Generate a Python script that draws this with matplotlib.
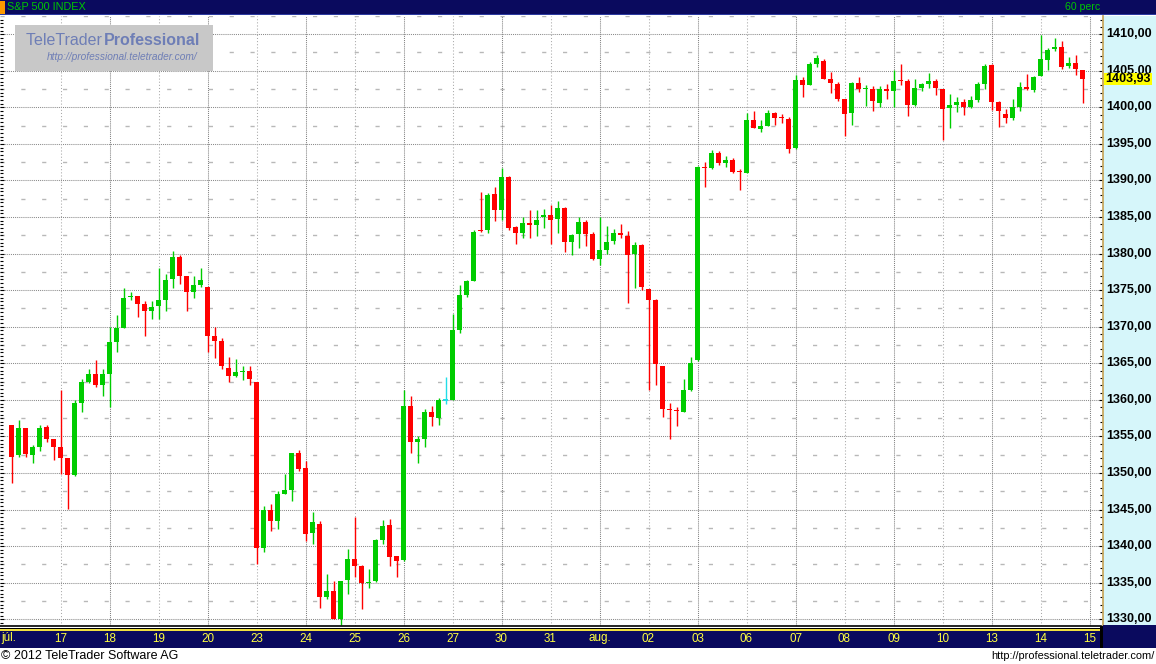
import matplotlib
matplotlib.use("Agg")
import matplotlib.pyplot as plt
from matplotlib.patches import Rectangle
from matplotlib.ticker import MultipleLocator

plt.rcParams['font.family'] = ['Liberation Sans', 'DejaVu Sans']

# hourly candles, S&P 500, 7 per trading day (16 Jul - 14 Aug 2012)
opens = [1356.5, 1352.4, 1356.1, 1352.5, 1353.5, 1356.3, 1354.6,
         1353.6, 1352.1, 1349.8, 1359.6, 1362.4, 1363.5, 1362.0,
         1363.6, 1367.9, 1369.8, 1374.1, 1374.2, 1373.1, 1372.1,
         1372.9, 1373.7, 1376.5, 1379.6, 1376.9, 1374.7, 1375.7,
         1375.4, 1368.7, 1368.1, 1364.3, 1363.2, 1363.8, 1363.9,
         1362.4, 1339.8, 1344.9, 1343.5, 1347.2, 1347.7, 1352.8,
         1350.7, 1341.8, 1343.1, 1333.1, 1333.9, 1330.1, 1335.4,
         1338.3, 1337.3, 1335.0, 1335.3, 1340.9, 1342.9, 1338.6,
         1338.1, 1359.2, 1354.2, 1354.7, 1358.3, 1357.5, 1359.9,
         1360.0, 1369.5, 1374.4, 1376.2, 1383.2, 1383.2, 1388.1,
         1386.0, 1390.5, 1383.6, 1382.8, 1384.2, 1383.9, 1385.0,
         1385.3, 1384.7, 1386.2, 1381.6, 1382.7, 1384.3, 1382.7,
         1379.2, 1380.5, 1381.7, 1382.8, 1382.4, 1379.9, 1381.2,
         1375.1, 1373.6, 1364.6, 1358.7, 1358.6, 1358.4, 1361.3,
         1365.4, 1391.8, 1391.7, 1393.8, 1392.4, 1392.8, 1391.2,
         1391.0, 1398.3, 1397.0, 1397.5, 1399.2, 1398.6, 1398.4,
         1394.4, 1403.8, 1403.1, 1405.9, 1406.4, 1403.9, 1403.2,
         1401.2, 1399.2, 1403.3, 1402.45, 1402.5, 1400.6, 1402.5, 1402.2,
         1403.6, 1403.6, 1400.3, 1402.7, 1403.2, 1403.6, 1402.5,
         1399.9, 1400.3, 1400.7, 1400.1, 1401.0, 1403.2, 1405.8,
         1400.7, 1399.1, 1398.5, 1400.1, 1402.8, 1402.4, 1404.3,
         1406.5, 1408.0, 1408.3, 1405.7, 1406.1, 1405.1]
highs = [1356.5, 1357.2, 1356.2, 1353.9, 1356.6, 1356.5, 1354.7,
         1361.3, 1352.1, 1360.0, 1362.8, 1364.2, 1365.4, 1364.2,
         1369.9, 1371.6, 1375.3, 1374.7, 1374.2, 1373.5, 1373.5,
         1378.1, 1377.2, 1380.3, 1379.8, 1377.0, 1376.9, 1378.0,
         1375.5, 1369.9, 1368.5, 1365.8, 1365.6, 1364.7, 1364.6,
         1362.4, 1345.5, 1345.7, 1347.6, 1349.9, 1352.8, 1353.2,
         1351.6, 1344.7, 1343.5, 1336.2, 1335.3, 1335.3, 1339.6,
         1344.0, 1337.4, 1336.9, 1341.0, 1343.6, 1343.7, 1338.7,
         1361.4, 1360.5, 1355.1, 1358.7, 1359.1, 1360.2, 1363.1,
         1371.7, 1375.7, 1376.4, 1383.2, 1388.4, 1388.3, 1389.1,
         1391.7, 1390.6, 1383.8, 1385.0, 1386.0, 1386.0, 1386.1,
         1386.6, 1387.2, 1386.4, 1382.7, 1385.0, 1384.6, 1382.9,
         1385.0, 1383.8, 1383.4, 1384.0, 1383.1, 1381.6, 1381.3,
         1375.1, 1373.8, 1364.6, 1359.6, 1359.0, 1362.9, 1365.8,
         1392.0, 1392.5, 1394.2, 1394.0, 1393.4, 1393.1, 1391.6,
         1399.2, 1399.5, 1398.3, 1399.6, 1399.3, 1399.1, 1398.7,
         1404.4, 1404.2, 1406.2, 1407.2, 1406.6, 1404.9, 1403.5,
         1401.2, 1403.5, 1404.2, 1403.1, 1402.9, 1402.9, 1403.2, 1405.1,
         1405.9, 1403.9, 1403.9, 1403.3, 1404.7, 1403.9, 1402.5,
         1401.8, 1401.4, 1401.1, 1401.6, 1403.4, 1405.9, 1405.9,
         1400.9, 1399.8, 1401.2, 1403.5, 1404.6, 1404.3, 1409.9,
         1408.1, 1409.5, 1409.1, 1406.9, 1407.2, 1405.1]
lows = [1348.6, 1352.2, 1352.2, 1351.4, 1353.0, 1354.2, 1351.8,
        1349.9, 1345.1, 1349.6, 1358.3, 1362.3, 1361.8, 1360.6,
        1359.0, 1366.6, 1369.8, 1373.6, 1371.3, 1368.7, 1371.0,
        1371.1, 1372.1, 1375.3, 1375.8, 1372.2, 1373.9, 1375.4,
        1366.6, 1365.7, 1364.2, 1362.4, 1363.1, 1362.7, 1362.1,
        1337.5, 1339.2, 1342.1, 1342.4, 1347.1, 1346.2, 1350.3,
        1340.7, 1340.3, 1331.6, 1332.8, 1330.1, 1329.2, 1333.5,
        1335.8, 1331.4, 1334.3, 1335.1, 1340.3, 1337.3, 1335.8,
        1338.0, 1352.7, 1351.4, 1353.5, 1356.4, 1356.5, 1359.4,
        1360.0, 1369.1, 1374.1, 1376.2, 1382.9, 1382.8, 1384.4,
        1384.6, 1383.2, 1381.3, 1382.2, 1382.1, 1382.4, 1383.5,
        1381.3, 1382.8, 1380.2, 1379.8, 1380.8, 1381.0, 1379.1,
        1378.4, 1379.9, 1381.3, 1382.2, 1373.3, 1375.3, 1375.0,
        1361.3, 1362.0, 1357.6, 1354.6, 1356.4, 1358.3, 1361.2,
        1365.3, 1389.1, 1391.6, 1392.1, 1391.8, 1391.0, 1388.7,
        1391.0, 1397.2, 1396.6, 1397.5, 1397.6, 1397.9, 1393.8,
        1394.3, 1401.4, 1403.0, 1405.5, 1403.9, 1402.0, 1400.9,
        1396.1, 1397.6, 1402.1, 1400.2, 1399.5, 1400.1, 1401.2, 1400.1,
        1403.1, 1398.8, 1400.2, 1402.2, 1402.7, 1401.7, 1395.5,
        1397.2, 1399.4, 1399.0, 1399.9, 1400.7, 1402.5, 1399.6,
        1397.3, 1397.9, 1398.3, 1399.5, 1402.4, 1402.1, 1404.3,
        1405.1, 1407.7, 1405.3, 1405.4, 1404.4, 1400.6]
closes = [1352.2, 1356.2, 1352.6, 1353.5, 1356.2, 1354.6, 1353.6,
          1352.1, 1349.8, 1359.6, 1362.4, 1363.5, 1362.0, 1363.6,
          1367.9, 1369.8, 1374.0, 1374.2, 1373.1, 1372.1, 1372.7,
          1373.7, 1376.4, 1379.6, 1376.9, 1374.7, 1375.7, 1376.4,
          1368.7, 1368.0, 1364.6, 1363.2, 1363.8, 1363.9, 1362.8,
          1339.8, 1344.9, 1343.5, 1347.2, 1347.7, 1352.8, 1350.5,
          1341.7, 1343.3, 1333.1, 1333.9, 1330.1, 1335.3, 1338.3,
          1337.3, 1335.0, 1335.1, 1340.9, 1342.8, 1338.5, 1338.0,
          1359.2, 1354.2, 1354.7, 1358.3, 1357.6, 1360.0, 1359.9,
          1369.5, 1374.4, 1376.2, 1382.9, 1383.1, 1388.0, 1386.0,
          1390.5, 1383.5, 1382.8, 1384.2, 1383.9, 1384.6, 1385.3,
          1384.6, 1386.2, 1381.6, 1382.5, 1384.3, 1382.7, 1379.2,
          1380.5, 1381.6, 1382.8, 1382.5, 1379.8, 1381.2, 1375.4,
          1373.6, 1364.9, 1358.8, 1358.6, 1358.5, 1361.3, 1365.0,
          1391.8, 1391.7, 1393.8, 1392.4, 1392.8, 1391.2, 1391.1,
          1398.3, 1397.2, 1397.5, 1399.2, 1398.6, 1398.5, 1394.3,
          1403.8, 1403.1, 1405.9, 1406.8, 1403.9, 1403.3, 1401.2,
          1399.1, 1403.3, 1402.5, 1402.5, 1400.8, 1402.5, 1402.2, 1403.6,
          1403.55, 1400.3, 1402.7, 1403.2, 1403.6, 1402.7, 1399.8,
          1400.3, 1400.7, 1400.1, 1401.0, 1403.2, 1405.7, 1400.7,
          1399.5, 1398.5, 1400.1, 1402.8, 1402.5, 1404.2, 1406.6,
          1407.9, 1408.3, 1405.5, 1406.1, 1405.3, 1403.93]

day_labels = ['júl.', '17', '18', '19', '20', '23', '24', '25', '26', '27',
              '30', '31', 'aug.', '02', '03', '06', '07', '08', '09', '10',
              '13', '14', '15']
bars_per_day = 7
last_price = 1403.93
price_levels = list(range(1330, 1411, 5))

W, H = 1156, 664
NAVY = '#0a0a5e'
GREEN = '#00cc00'
RED = '#ff0000'
CYAN = '#22dde8'


def px_to_price(y):
    return 1410 - (y - 34.2) / 7.314


def price_to_px(p):
    return 34.2 + (1410 - p) * 7.314


def px_to_idx(x):
    return (x - 11.5) / bars_per_day


fig = plt.figure(figsize=(W / 100, H / 100), dpi=100)

# main price panel
ax = fig.add_axes([0, 1 - 626 / H, 1101 / W, 610 / H])
ax.set_xlim(px_to_idx(0), px_to_idx(1101))
ax.set_ylim(px_to_price(626), px_to_price(16))

for p in price_levels:
    ax.axhline(p, color='#8a8a8a', lw=0.75, ls=(0, (1, 1)), zorder=1)
    ax.axhline(p + 2.5, color='#b8b8b8', lw=1.0, ls=(0, (3, 12)), zorder=1)
for d in range(1, len(day_labels)):
    if d % 2 == 0:
        ax.axvline(d * bars_per_day, color='#808080', lw=0.75, ls=(0, (1, 1)), zorder=1)
    else:
        ax.axvline(d * bars_per_day, color='#a8a8a8', lw=0.75, ls=(0, (1, 2)), zorder=1)

xs = list(range(len(opens)))
colors = []
for o, c in zip(opens, closes):
    if c > o:
        colors.append(GREEN)
    elif c < o:
        colors.append(RED)
    else:
        colors.append(CYAN)
ax.vlines(xs, lows, highs, colors=colors, lw=1.0, zorder=2)
bottoms = [min(o, c) for o, c in zip(opens, closes)]
heights = [max(abs(c - o), 0.16) for o, c in zip(opens, closes)]
ax.bar(xs, heights, bottom=bottoms, width=5 / 7, color=colors, linewidth=0, zorder=3)

for s in ['top', 'right', 'left']:
    ax.spines[s].set_visible(False)
ax.spines['bottom'].set_color('black')
ax.spines['bottom'].set_linewidth(1.2)
ax.set_xticks([])
ax.yaxis.set_major_locator(MultipleLocator(5))
ax.yaxis.set_minor_locator(MultipleLocator(0.5))
ax.tick_params(axis='y', which='major', direction='in', length=3, width=0.8,
               color='black', labelleft=False)
ax.tick_params(axis='y', which='minor', direction='in', length=2, width=0.8,
               color='black')

# right price scale panel
rax = fig.add_axes([1103 / W, 1 - 628 / H, (W - 1103) / W, 612 / H])
rax.set_facecolor('#d6f6fa')
rax.set_ylim(px_to_price(628), px_to_price(16))
rax.set_xlim(0, 1)
for s in ['top', 'right', 'bottom']:
    rax.spines[s].set_visible(False)
rax.spines['left'].set_color('#c8a860')
rax.spines['left'].set_linewidth(1.3)
rax.set_xticks([])
rax.yaxis.set_major_locator(MultipleLocator(5))
rax.yaxis.set_minor_locator(MultipleLocator(1))
rax.tick_params(axis='y', which='major', direction='out', length=3, width=0.8,
                color='black', labelleft=False)
rax.tick_params(axis='y', which='minor', direction='out', length=2, width=0.8,
                color='black')

# overlay in pixel coordinates for the frame, header, footer and labels
ov = fig.add_axes([0, 0, 1, 1])
ov.set_xlim(0, W)
ov.set_ylim(H, 0)
ov.axis('off')
ov.patch.set_alpha(0)

# header bar
ov.add_patch(Rectangle((0, 0), W, 15, color=NAVY, lw=0))
ov.add_patch(Rectangle((0, 14), W, 1.2, color='#2c3aa0', lw=0))
ov.add_patch(Rectangle((0, 1), 5, 13, color='#ff9900', lw=0))
ov.text(7, 7.5, 'S&P 500 INDEX', color='#00c800', fontsize=7.8, va='center', ha='left')
ov.text(1100, 7.5, '60 perc', color='#00c800', fontsize=7.6, va='center', ha='right')

# logo box
ov.add_patch(Rectangle((15, 25), 198, 46, color='#c8c8c8', lw=0))
t1 = ov.text(26, 40.5, 'TeleTrader ', color='#6e7eb6', fontsize=11.5, va='center', ha='left')
ov.text(104, 40.5, 'Professional', color='#6e7eb6', fontsize=11.5, fontweight='bold',
        va='center', ha='left')
ov.text(197, 57, 'http://professional.teletrader.com/', color='#6e7eb6', fontsize=7.3,
        style='italic', va='center', ha='right')

# bottom date bar
ov.add_patch(Rectangle((0, 628.2), 1101, 1.2, color='black', lw=0))
ov.add_patch(Rectangle((0, 629.4), W, 18.4, color=NAVY, lw=0))
ov.add_patch(Rectangle((1103, 625), W - 1103, 5, color=NAVY, lw=0))
ov.add_patch(Rectangle((0, 629.2), 1100, 1.4, color='#f0e040', lw=0))
ov.add_patch(Rectangle((1100, 626), 3, 22, color='black', lw=0))
for d, lab in enumerate(day_labels):
    x = 11.5 + d * bars_per_day * 7
    if d == 0:
        ov.text(1, 638.5, lab, color='#ffff40', fontsize=8.4, va='center', ha='left')
    else:
        ov.text(x, 638.5, lab, color='#ffff40', fontsize=8.4, va='center', ha='center')

# price labels
for p in price_levels:
    ov.text(1106, price_to_px(p), f'{p},00', fontsize=9, fontweight='bold',
            color='black', va='center', ha='left')
yl = price_to_px(last_price)
ov.add_patch(Rectangle((1104, yl - 5.2), 48, 11.6, color='#ffff00', lw=0, zorder=5))
ov.text(1128, yl + 0.6, f'{last_price:.2f}'.replace('.', ','), fontsize=9,
        fontweight='bold', color='black', va='center', ha='center', zorder=6)

# footer
ov.text(1, 656, '© 2012 TeleTrader Software AG', fontsize=9, color='black',
        va='center', ha='left')
ov.text(1155, 656, 'http://professional.teletrader.com/', fontsize=7.9, color='black',
        va='center', ha='right')

fig.savefig('out.png', dpi=100)
